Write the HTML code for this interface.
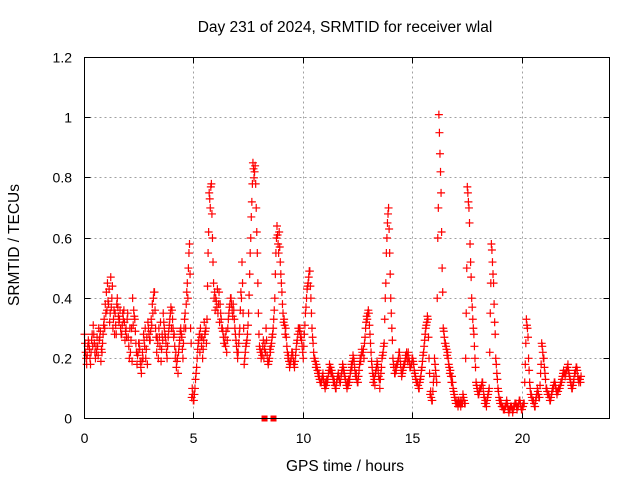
<!DOCTYPE html>
<html><head><meta charset="utf-8"><style>
body{margin:0;background:#fff;}
svg text{font-family:"Liberation Sans",sans-serif;font-size:14px;fill:#000;}
</style></head><body>
<svg id="chart" width="640" height="480" viewBox="0 0 640 480">
<rect width="640" height="480" fill="#fff"/>
<text x="345" y="32" text-anchor="middle" style="font-size:15.5px">Day 231 of 2024, SRMTID for receiver wlal</text>
<text transform="translate(19,245) rotate(-90)" text-anchor="middle" style="font-size:15.5px">SRMTID / TECUs</text>
<text x="345" y="471" text-anchor="middle" style="font-size:15.5px">GPS time / hours</text>
<g id="grid"></g>
<g id="ticks"></g>
<g id="marks"></g>
<rect x="84.5" y="57.5" width="525" height="361" fill="none" stroke="#000" stroke-width="1"/>
</svg>
<script>
const xTicks=[0,5,10,15,20];
const yTicks=[0,0.2,0.4,0.6,0.8,1,1.2];
const yTickLabels=["0","0.2","0.4","0.6","0.8","1","1.2"];
const valuesA=[
0.28,0.18,0.25,0.22,0.31,0.20,0.24,0.27,0.22,0.33,
0.42,0.38,0.47,0.30,0.35,0.40,0.33,0.28,0.36,0.30,
0.27,0.22,0.40,0.33,0.18,0.25,0.15,0.28,0.20,0.32,
0.26,0.38,0.42,0.22,0.30,0.19,0.35,0.27,0.24,0.33,
0.36,0.28,0.17,0.22,0.30,0.20,0.35,0.45,0.58,0.07,
0.06,0.15,0.25,0.30,0.20,0.28,0.33,0.75,0.78,0.45,
0.40,0.35,0.38,0.30,0.25,0.22,0.35,0.40,0.38,0.28,
0.20,0.30,0.52,0.18,0.25,0.35,0.60,0.85,0.84,0.55,
0.24,0.22,0.20,0.30,0.18,0.22,0.28,0.40,0.64,0.62,
0.45,0.32,0.30,0.20,0.18,0.22,0.17,0.25,0.30,0.28,
0.20,0.35,0.44,0.49,0.30,0.20,0.18,0.14,0.12,0.15,
0.10,0.12,0.18,0.16,0.13,0.10,0.15,0.12,0.18,0.14,
0.10,0.12,0.18,0.20,0.14,0.12,0.20,0.22,0.25,0.34,
0.35,0.22,0.12,0.15,0.18,0.10,0.20,0.25,0.55,0.70,
0.40,0.20,0.15,0.18,0.22,0.14,0.18,0.20,0.22,0.17,
0.20,0.15,0.12,0.10,0.16,0.22,0.30,0.33,0.08,0.06,
0.20,0.12,1.01,0.75,0.30,0.25,0.22,0.15,0.14,0.08,
0.05,0.06,0.04,0.08,0.05,0.77,0.65,0.40,0.28,0.12,
0.08,0.10,0.12,0.05,0.06,0.10,0.58,0.45,0.20,0.10,
0.05,0.04,0.03,0.06,0.02,0.04,0.03,0.05,0.04,0.06,
0.03,0.05,0.33,0.20,0.08,0.06,0.04,0.10,0.07,0.25,
0.20,0.10,0.08,0.06,0.10,0.12,0.08,0.10,0.12,0.16,
0.15,0.18,0.13,0.10,0.15,0.17,0.12,0.14];
const valuesB=[
0.22,0.24,0.20,0.28,0.25,0.22,0.30,0.19,0.28,0.38,
0.45,0.32,0.40,0.36,0.28,0.34,0.30,0.35,0.26,0.33,
0.20,0.30,0.36,0.25,0.22,0.19,0.22,0.24,0.27,0.28,
0.33,0.40,0.30,0.25,0.24,0.28,0.30,0.22,0.29,0.37,
0.30,0.20,0.20,0.26,0.27,0.30,0.38,0.50,0.30,0.08,
0.10,0.20,0.28,0.24,0.26,0.30,0.55,0.70,0.60,0.42,
0.37,0.42,0.33,0.27,0.24,0.30,0.38,0.36,0.33,0.24,
0.25,0.42,0.35,0.22,0.28,0.48,0.72,0.80,0.70,0.35,
0.22,0.24,0.25,0.21,0.20,0.25,0.33,0.55,0.58,0.52,
0.38,0.31,0.24,0.19,0.20,0.19,0.21,0.28,0.30,0.24,
0.28,0.40,0.47,0.40,0.25,0.19,0.16,0.13,0.13,0.12,
0.11,0.15,0.17,0.14,0.11,0.13,0.13,0.15,0.16,0.12,
0.11,0.15,0.19,0.17,0.13,0.16,0.21,0.23,0.30,0.35,
0.28,0.17,0.13,0.17,0.14,0.15,0.22,0.40,0.65,0.55,
0.30,0.17,0.16,0.20,0.18,0.16,0.19,0.21,0.19,0.18,
0.18,0.13,0.11,0.13,0.19,0.26,0.32,0.20,0.07,0.12,
0.16,0.60,0.88,0.50,0.27,0.23,0.18,0.14,0.10,0.06,
0.05,0.05,0.06,0.06,0.35,0.72,0.52,0.33,0.20,0.10,
0.09,0.11,0.08,0.05,0.08,0.35,0.52,0.32,0.15,0.07,
0.05,0.03,0.04,0.04,0.03,0.03,0.04,0.04,0.05,0.04,
0.04,0.18,0.30,0.12,0.07,0.05,0.07,0.08,0.15,0.22,
0.15,0.09,0.07,0.08,0.11,0.10,0.09,0.11,0.14,0.15,
0.16,0.15,0.11,0.12,0.16,0.14,0.13];
const valuesC=[
0.25,0.21,0.23,0.26,0.28,0.24,0.21,0.29,0.25,0.30,
0.36,0.43,0.37,0.33,0.31,0.37,0.36,0.31,0.32,0.27,
0.24,0.26,0.31,0.29,0.21,0.23,0.19,0.26,0.23,0.30,
0.29,0.35,0.36,0.27,0.27,0.23,0.32,0.25,0.27,0.35,
0.33,0.24,0.19,0.24,0.28,0.25,0.30,0.40,0.48,0.10,
0.08,0.17,0.26,0.27,0.23,0.29,0.44,0.73,0.68,0.40,
0.39,0.38,0.35,0.29,0.27,0.26,0.37,0.38,0.36,0.26,
0.22,0.36,0.45,0.20,0.26,0.41,0.67,0.83,0.78,0.45,
0.23,0.21,0.23,0.26,0.19,0.24,0.30,0.48,0.61,0.57,
0.42,0.33,0.27,0.21,0.19,0.21,0.19,0.26,0.29,0.26,
0.24,0.37,0.45,0.44,0.27,0.20,0.17,0.15,0.12,0.13,
0.12,0.13,0.16,0.15,0.12,0.12,0.14,0.14,0.17,0.13,
0.12,0.13,0.17,0.19,0.15,0.14,0.19,0.22,0.27,0.33,
0.31,0.19,0.14,0.16,0.16,0.13,0.21,0.33,0.60,0.63,
0.35,0.18,0.17,0.19,0.20,0.15,0.18,0.22,0.20,0.18,
0.19,0.14,0.12,0.12,0.17,0.24,0.31,0.27,0.09,0.09,
0.18,0.40,0.95,0.62,0.29,0.24,0.20,0.16,0.12,0.07,
0.06,0.05,0.05,0.07,0.20,0.75,0.58,0.37,0.24,0.11,
0.08,0.10,0.10,0.06,0.07,0.22,0.56,0.38,0.18,0.09,
0.06,0.04,0.04,0.05,0.03,0.04,0.04,0.05,0.04,0.05,
0.04,0.12,0.31,0.16,0.08,0.06,0.06,0.09,0.11,0.24,
0.17,0.10,0.08,0.07,0.10,0.11,0.09,0.10,0.13,0.15,
0.16,0.16,0.12,0.11,0.15,0.16,0.13];
const valuesD=[
0.20,0.26,0.18,0.24,0.22,0.27,0.26,0.23,0.31,0.35,
0.39,0.35,0.44,0.28,0.38,0.32,0.28,0.33,0.29,0.35,
0.30,0.19,0.34,0.22,0.25,0.17,0.20,0.30,0.18,0.26,
0.31,0.42,0.27,0.20,0.32,0.26,0.28,0.20,0.31,0.30,
0.27,0.22,0.15,0.29,0.23,0.33,0.42,0.55,0.25,0.06,
0.13,0.23,0.22,0.27,0.32,0.25,0.62,0.77,0.52,0.36,
0.43,0.32,0.30,0.25,0.29,0.33,0.40,0.34,0.30,0.22,
0.28,0.40,0.30,0.24,0.31,0.55,0.78,0.82,0.62,0.28,
0.20,0.26,0.22,0.19,0.23,0.27,0.36,0.60,0.55,0.48,
0.35,0.28,0.22,0.17,0.22,0.18,0.23,0.30,0.27,0.22,
0.31,0.43,0.49,0.35,0.22,0.17,0.15,0.12,0.14,0.11,
0.13,0.16,0.15,0.12,0.10,0.14,0.12,0.16,0.15,0.11,
0.13,0.16,0.21,0.15,0.12,0.18,0.23,0.20,0.32,0.36,
0.25,0.15,0.11,0.19,0.13,0.17,0.24,0.45,0.68,0.48,
0.26,0.15,0.18,0.22,0.16,0.17,0.21,0.19,0.17,0.20,
0.16,0.12,0.10,0.14,0.21,0.28,0.34,0.15,0.06,0.14,
0.14,0.70,0.82,0.42,0.25,0.21,0.17,0.12,0.09,0.05,
0.04,0.06,0.05,0.05,0.50,0.70,0.47,0.30,0.17,0.09,
0.10,0.12,0.07,0.04,0.09,0.45,0.48,0.28,0.13,0.06,
0.04,0.03,0.05,0.03,0.04,0.02,0.05,0.03,0.06,0.03,
0.05,0.25,0.27,0.10,0.06,0.04,0.08,0.07,0.18,0.20,
0.13,0.08,0.06,0.09,0.12,0.09,0.10,0.12,0.15,0.14,
0.17,0.14,0.10,0.13,0.17,0.13,0.12];
const squareTimes=[8.23,8.64];
const squareValues=[0,0];

const NS="http://www.w3.org/2000/svg";
const X0=84.5,X1=609.5,Y0=418.5,Y1=57.5;
function xs(t){return X0+(X1-X0)*t/24;}
function ys(v){return Y0-(Y0-Y1)*v/1.2;}
const grid=document.getElementById('grid'),ticks=document.getElementById('ticks'),marks=document.getElementById('marks');
function line(g,x1,y1,x2,y2,st,da){const l=document.createElementNS(NS,'line');l.setAttribute('x1',x1);l.setAttribute('y1',y1);l.setAttribute('x2',x2);l.setAttribute('y2',y2);l.setAttribute('stroke',st);l.setAttribute('stroke-width',1);if(da)l.setAttribute('stroke-dasharray',da);g.appendChild(l);return l;}
yTicks.forEach((v,i)=>{const y=Math.round(ys(v)-0.5)+0.5;
 if(v>0&&v<1.2){const gl=line(grid,X0,y,X1,y,'#a0a0a0','2,3');
 
 }
 line(ticks,X0,y,X0+6,y,'#000');line(ticks,X1-6,y,X1,y,'#000');
 const t=document.createElementNS(NS,'text');t.setAttribute('x',72);t.setAttribute('y',y+5);t.setAttribute('text-anchor','end');t.textContent=yTickLabels[i];
 
 
 ticks.appendChild(t);});
xTicks.forEach(v=>{const x=Math.round(xs(v)-0.5)+0.5;
 if(v>0){const gl=line(grid,x,Y0,x,Y1,'#a0a0a0','2,3');
 
 }
 line(ticks,x,Y0,x,Y0-6,'#000');line(ticks,x,Y1,x,Y1+6,'#000');
 const t=document.createElementNS(NS,'text');t.setAttribute('x',x);t.setAttribute('y',443);t.setAttribute('text-anchor','middle');t.textContent=String(v);
 
 
 ticks.appendChild(t);});
let d='';
function plus(t,v){const x=xs(t),y=ys(v);d+=`M${x-4},${y}h8M${x},${y-4}v8`;}
valuesA.forEach((v,i)=>plus(i*0.1,v));
valuesB.forEach((v,i)=>plus(i*0.1+0.05,v));
valuesC.forEach((v,i)=>plus(i*0.1+0.025,v));
valuesD.forEach((v,i)=>plus(i*0.1+0.075,v));
const p=document.createElementNS(NS,'path');p.setAttribute('d',d);p.setAttribute('stroke','#ff0000');p.setAttribute('stroke-width','1.2');p.setAttribute('fill','none');


marks.appendChild(p);
squareTimes.forEach((t,i)=>{const r=document.createElementNS(NS,'rect');r.setAttribute('x',xs(t)-3);r.setAttribute('y',ys(squareValues[i])-3);r.setAttribute('width',6);r.setAttribute('height',6);r.setAttribute('fill','#ff0000');
 
 
 marks.appendChild(r);});
</script>
</body></html>
